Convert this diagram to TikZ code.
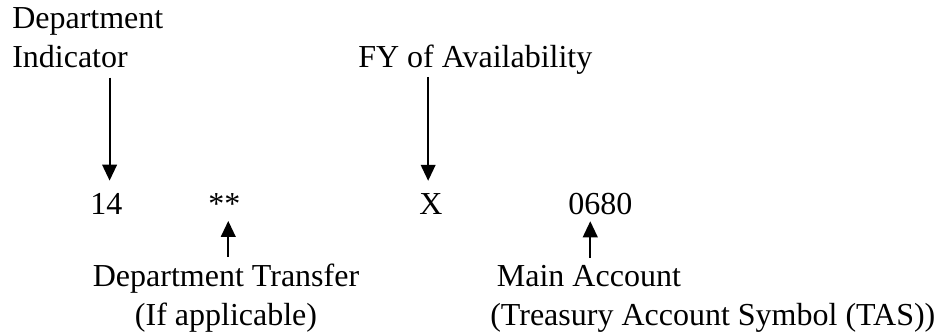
\documentclass[tikz,border=0pt]{standalone}
\usepackage{fontspec}
\setmainfont{Liberation Serif}
\usetikzlibrary{arrows.meta}

\begin{document}
\begin{tikzpicture}[x=0.75pt,y=-0.75pt,
  lbl/.style={inner sep=0pt,font=\fontsize{24}{29}\selectfont},
  arr/.style={line width=1.4pt,-{Triangle[width=11pt,length=12pt]}}]
\useasboundingbox (0,0) rectangle (942,333);
% labels above
\node[lbl,align=left,anchor=base west] (ind) at (12,67) {Department\\Indicator};
\node[lbl,anchor=base west] (fy) at (358,67) {FY of Availability};
% the symbol
\node[lbl,anchor=base west] (dept) at (90,214) {14};
\node[lbl,anchor=base west] (xfer) at (208,214) {**};
\node[lbl,anchor=base west] (avail) at (419,214) {X};
\node[lbl,anchor=base west] (main) at (568,214) {0680};
% labels below
\node[lbl,align=center,anchor=base] (xferlbl) at (226,325) {Department Transfer\\(If applicable)};
\node[lbl,align=left,anchor=base west] (mainlbl) at (490,325) {\hspace{5pt}Main Account\\(Treasury Account Symbol (TAS))};
% arrows
\draw[arr] ([xshift=2.5pt,yshift=-7.5pt]ind.south -| dept.north) -- ([xshift=2.5pt,yshift=9pt]dept.north);
\draw[arr] ([xshift=-2pt,yshift=-2pt]fy.south -| avail.north) -- ([xshift=-2pt,yshift=9pt]avail.north);
\draw[arr] ([xshift=3pt,yshift=5pt]xferlbl.north -| xfer.south) -- ([xshift=3pt,yshift=-5pt]xfer.south);
\draw[arr] ([xshift=-7.5pt,yshift=5pt]mainlbl.north -| main.south) -- ([xshift=-7.5pt,yshift=-5pt]main.south);
\end{tikzpicture}
\end{document}
